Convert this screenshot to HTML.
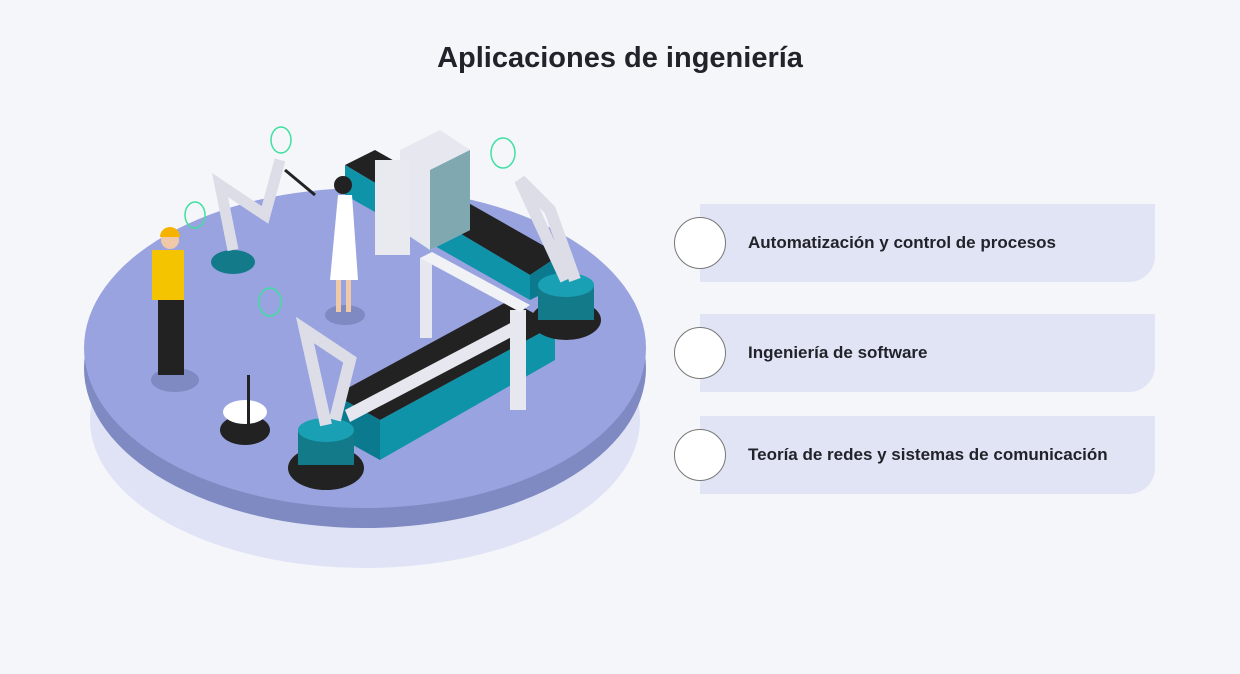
<!DOCTYPE html>
<html><head><meta charset="utf-8"><style>
body{margin:0;width:1240px;height:674px;background:#f5f6fa;font-family:"Liberation Sans",sans-serif;position:relative;overflow:hidden}
h1{position:absolute;top:42px;left:0;width:1240px;text-align:center;margin:0;font-size:29px;font-weight:bold;color:#22232a}
.item{position:absolute;left:700px;width:455px;height:78px;background:#e1e4f5;border-bottom-right-radius:26px}
.item span{position:absolute;left:48px;top:0;line-height:78px;font-size:17px;font-weight:bold;color:#22232a}
.c{position:absolute;left:674px;width:50px;height:50px;border-radius:50%;background:#fff;border:1px solid #777}
</style></head><body>
<h1>Aplicaciones de ingeniería</h1>
<svg width="1240" height="674" style="position:absolute;left:0;top:0">
<ellipse cx="365" cy="420" rx="275" ry="148" fill="#e0e3f5"/>
<ellipse cx="365" cy="368" rx="281" ry="160" fill="#7f8ac2"/>
<ellipse cx="365" cy="348" rx="281" ry="160" fill="#98a3df"/>
<!-- back conveyor -->
<polygon points="345,165 375,150 560,255 530,275" fill="#222"/>
<polygon points="345,165 530,275 530,300 345,195" fill="#0e93a8"/>
<polygon points="530,275 560,255 560,285 530,300" fill="#0b7a8e"/>
<polygon points="400,150 440,130 470,150 470,230 430,250 400,230" fill="#e6e7ef"/>
<polygon points="430,170 470,150 470,230 430,250" fill="#7fa8b0"/>
<rect x="375" y="160" width="35" height="95" fill="#e9eaf0"/>
<!-- front conveyor -->
<polygon points="335,395 510,300 555,325 380,420" fill="#222"/>
<polygon points="335,395 380,420 380,460 335,435" fill="#0b7a8e"/>
<polygon points="380,420 555,325 555,360 380,460" fill="#0e93a8"/>
<polygon points="345,410 520,318 525,330 350,422" fill="#e6e7ef"/>
<rect x="420" y="258" width="12" height="80" fill="#e6e7ef"/>
<rect x="510" y="310" width="16" height="100" fill="#e6e7ef"/>
<polygon points="420,258 432,252 530,305 520,312" fill="#f1f2f6"/>
<!-- robot bases -->
<ellipse cx="326" cy="468" rx="38" ry="22" fill="#222"/>
<rect x="298" y="430" width="56" height="35" fill="#137a8a"/>
<ellipse cx="326" cy="430" rx="28" ry="12" fill="#1aa0b4"/>
<ellipse cx="566" cy="320" rx="35" ry="20" fill="#222"/>
<rect x="538" y="285" width="56" height="35" fill="#137a8a"/>
<ellipse cx="566" cy="285" rx="28" ry="12" fill="#1aa0b4"/>
<ellipse cx="233" cy="262" rx="22" ry="12" fill="#137a8a"/>
<!-- arms -->
<path d="M326 425 L305 330 L350 360 L335 420" stroke="#dcdde6" stroke-width="12" fill="none"/>
<path d="M566 280 L520 180 L550 210 L575 280" stroke="#dcdde6" stroke-width="12" fill="none"/>
<path d="M233 250 L220 185 L265 215 L280 160" stroke="#dcdde6" stroke-width="11" fill="none"/>
<line x1="285" y1="170" x2="315" y2="195" stroke="#222" stroke-width="3"/>
<!-- worker -->
<ellipse cx="175" cy="380" rx="24" ry="12" fill="#7f8ac2"/>
<rect x="158" y="295" width="26" height="80" fill="#222"/>
<rect x="152" y="250" width="32" height="50" fill="#f5c400"/>
<circle cx="170" cy="240" r="9" fill="#f0c9a8"/>
<path d="M160 237 a10 10 0 0 1 20 0z" fill="#f5b300"/>
<!-- woman -->
<ellipse cx="345" cy="315" rx="20" ry="10" fill="#7f8ac2"/>
<rect x="336" y="275" width="5" height="37" fill="#f0c9a8"/><rect x="346" y="275" width="5" height="37" fill="#f0c9a8"/>
<polygon points="338,195 352,195 358,280 330,280" fill="#fff"/>
<circle cx="343" cy="185" r="9" fill="#222"/>
<!-- cart -->
<ellipse cx="245" cy="430" rx="25" ry="15" fill="#222"/>
<ellipse cx="245" cy="412" rx="22" ry="12" fill="#fff"/>
<rect x="247" y="375" width="3" height="50" fill="#222"/>
<!-- wifi -->
<g fill="none" stroke="#3fe0a0" stroke-width="1.5">
<ellipse cx="281" cy="140" rx="10" ry="13"/><ellipse cx="503" cy="153" rx="12" ry="15"/>
<ellipse cx="195" cy="215" rx="10" ry="13"/><ellipse cx="270" cy="302" rx="11" ry="14"/>
</g>
</svg>
<div class="item" style="top:204px"><span>Automatización y control de procesos</span></div>
<div class="item" style="top:314px"><span>Ingeniería de software</span></div>
<div class="item" style="top:416px"><span>Teoría de redes y sistemas de comunicación</span></div>
<div class="c" style="top:217px"></div>
<div class="c" style="top:327px"></div>
<div class="c" style="top:429px"></div>
</body></html>
